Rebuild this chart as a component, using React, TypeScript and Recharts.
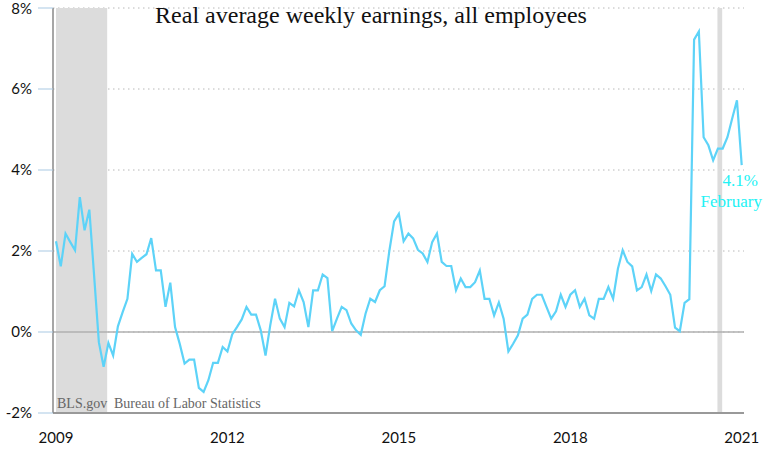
import React from "react";
import {
  LineChart,
  Line,
  XAxis,
  YAxis,
  CartesianGrid,
  ReferenceArea,
  ReferenceLine,
  LabelList,
} from "recharts";

// Monthly data starting February 2009
const startYear = 2009;
const startMonth = 2; // February
const monthNames = [
  "January", "February", "March", "April", "May", "June",
  "July", "August", "September", "October", "November", "December",
];

// Real average weekly earnings, all employees, 12-month percent change
const earnings = [
  2.24, 1.62, 2.43, 2.22, 2.02, 3.33, 2.51, 3.02, 1.4, -0.25,
  -0.86, -0.27, -0.58, 0.14, 0.49, 0.82, 1.93, 1.73, 1.83, 1.92,
  2.32, 1.52, 1.52, 0.62, 1.22, 0.12, -0.3, -0.78, -0.68, -0.68,
  -1.38, -1.48, -1.19, -0.76, -0.76, -0.37, -0.48, -0.06, 0.12, 0.31,
  0.62, 0.43, 0.43, 0.04, -0.58, 0.17, 0.82, 0.33, 0.12, 0.72,
  0.63, 1.03, 0.74, 0.12, 1.03, 1.03, 1.42, 1.33, 0.02, 0.33,
  0.62, 0.54, 0.21, 0.04, -0.07, 0.45, 0.82, 0.74, 1.03, 1.13,
  2.0, 2.73, 2.92, 2.24, 2.43, 2.31, 2.03, 1.94, 1.73, 2.22,
  2.43, 1.73, 1.63, 1.63, 1.03, 1.32, 1.11, 1.11, 1.23, 1.52,
  0.82, 0.82, 0.41, 0.73, 0.33, -0.48, -0.29, -0.08, 0.33, 0.43,
  0.82, 0.92, 0.92, 0.62, 0.33, 0.51, 0.92, 0.62, 0.92, 1.03,
  0.62, 0.82, 0.41, 0.33, 0.82, 0.82, 1.11, 0.82, 1.56, 2.02,
  1.73, 1.62, 1.03, 1.11, 1.42, 1.01, 1.42, 1.32, 1.13, 0.92,
  0.11, 0.02, 0.72, 0.81, 7.22, 7.42, 4.81, 4.61, 4.24, 4.53,
  4.53, 4.81, 5.27, 5.72, 4.12,
];

// Recession shading, in month indexes from the start
const recessionStarts = [0, 138.9];
const recessionEnds = [10.75, 139.9];

const yTicks = [-2, 0, 2, 4, 6, 8];
const xTicks = [0, 36, 72, 108, 144];

const title = "Real average weekly earnings, all employees";
const sourceShort = "BLS.gov";
const sourceLong = "Bureau of Labor Statistics";

const data = earnings.map((v, i) => ({ i, v }));
const lastIndex = earnings.length - 1;

const yearOf = (i: number) => startYear + Math.floor((startMonth - 1 + i) / 12);
const monthOf = (i: number) => monthNames[(startMonth - 1 + i) % 12];

const LINE_COLOR = "#5dd3f8";
const ANNO_COLOR = "#22f2f5";
const SERIF = "'Liberation Serif', 'Times New Roman', serif";

const EndLabel = (props: any) => {
  const { x, y, index, value } = props;
  if (index !== lastIndex) return null;
  return (
    <g>
      <text x={x - 1.5} y={y + 21} textAnchor="middle" fill={ANNO_COLOR} fontFamily={SERIF} fontSize={17}>
        {`${Number(value).toFixed(1)}%`}
      </text>
      <text x={x - 10.5} y={y + 42} textAnchor="middle" fill={ANNO_COLOR} fontFamily={SERIF} fontSize={17}>
        {monthOf(index)}
      </text>
    </g>
  );
};

export default function App() {
  return (
    <div style={{ position: "absolute", left: 0, top: 0, width: 768, height: 453, background: "#fff" }}>
      <LineChart
        width={768}
        height={453}
        data={data}
        margin={{ top: 8, right: 24, bottom: 0, left: 0 }}
      >
        {recessionStarts.map((s, k) => (
          <ReferenceArea
            key={k}
            x1={s}
            x2={recessionEnds[k]}
            y1={-2}
            y2={8}
            fill="#dcdcdc"
            fillOpacity={1}
            stroke="none"
            ifOverflow="hidden"
          />
        ))}
        <CartesianGrid vertical={false} stroke="#b8b8b8" strokeDasharray="1.5 3.5" />
        <ReferenceLine y={0} stroke="#b0b0b0" strokeWidth={1.5} />
        <XAxis
          dataKey="i"
          type="number"
          domain={[-0.63, 144.48]}
          ticks={xTicks}
          tickFormatter={(v: number) => String(yearOf(v))}
          tickLine={false}
          axisLine={{ stroke: "#999", strokeWidth: 2 }}
          tickMargin={13}
          height={40}
          tick={{ fill: "#111", fontSize: 15, fontFamily: "Lato, 'Open Sans', sans-serif" }}
          allowDataOverflow
        />
        <YAxis
          type="number"
          domain={[-2, 8]}
          ticks={yTicks}
          tickFormatter={(v: number) => `${v}%`}
          width={53}
          tickSize={15}
          tickMargin={6}
          tickLine={{ stroke: "#a9c9e3" }}
          axisLine={{ stroke: "#888", strokeWidth: 1.5 }}
          tick={{ fill: "#111", fontSize: 15, fontFamily: "Lato, 'Open Sans', sans-serif" }}
          allowDataOverflow
        />
        <Line
          dataKey="v"
          stroke={LINE_COLOR}
          strokeWidth={2.2}
          dot={false}
          activeDot={false}
          isAnimationActive={false}
        >
          <LabelList dataKey="v" content={EndLabel} />
        </Line>
      </LineChart>
      <svg width={768} height={453} style={{ position: "absolute", left: 0, top: 0, pointerEvents: "none" }}>
        <text x={371} y={23} textAnchor="middle" fill="#111" fontFamily={SERIF} fontSize={24}>
          {title}
        </text>
        <text x={57} y={408} fill="#666" fontFamily={SERIF} fontSize={14}>
          {sourceShort}
        </text>
        <text x={114} y={408} fill="#666" fontFamily={SERIF} fontSize={14}>
          {sourceLong}
        </text>
      </svg>
    </div>
  );
}
